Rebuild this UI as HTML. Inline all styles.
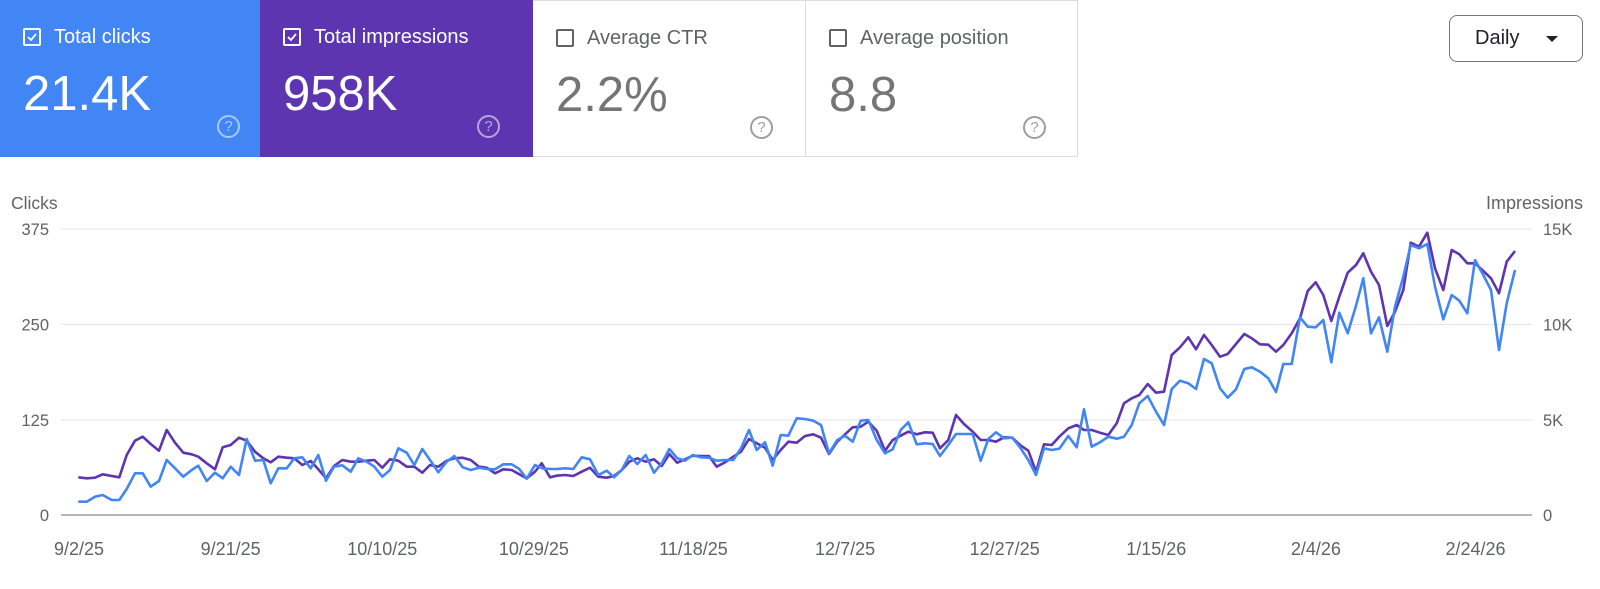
<!DOCTYPE html>
<html><head><meta charset="utf-8"><style>
body{margin:0;width:1600px;height:589px;background:#fff;font-family:"Liberation Sans",Arial,sans-serif;overflow:hidden;position:relative}
.card{position:absolute;top:0;height:157px;box-sizing:border-box}
.cb{position:absolute;left:23px;top:28px;width:18px;height:18px;border:2px solid #fff;border-radius:2px;box-sizing:border-box}
.lab{position:absolute;left:54px;top:26px;font-size:20px}
.val{position:absolute;left:23px;top:66px;font-size:49px}
.q{position:absolute;left:217px;top:115px;width:23px;height:23px;border:2px solid;border-radius:50%;box-sizing:border-box;font-size:15px;text-align:center;line-height:19px}
</style></head><body>
<div class="card" style="left:0;width:260px;background:#4285f4;color:#fff">
<div class="cb"><svg width="14" height="14" style="position:absolute;left:0;top:0"><path d="M3 7l3 3 5-6" stroke="#fff" stroke-width="1.8" fill="none"/></svg></div>
<div class="lab">Total clicks</div><div class="val">21.4K</div><div class="q" style="border-color:rgba(255,255,255,.55);color:rgba(255,255,255,.55)">?</div></div>
<div class="card" style="left:260px;width:273px;background:#5e35b1;color:#fff">
<div class="cb"><svg width="14" height="14" style="position:absolute;left:0;top:0"><path d="M3 7l3 3 5-6" stroke="#fff" stroke-width="1.8" fill="none"/></svg></div>
<div class="lab">Total impressions</div><div class="val">958K</div><div class="q" style="border-color:rgba(255,255,255,.55);color:rgba(255,255,255,.55)">?</div></div>
<div class="card" style="left:533px;width:273px;border:1px solid #dadce0;border-left:none;color:#5f6368">
<div class="cb" style="border-color:#5f6368"></div><div class="lab">Average CTR</div><div class="val" style="color:#757575">2.2%</div><div class="q" style="border-color:#9e9e9e;color:#9e9e9e">?</div></div>
<div class="card" style="left:805px;width:273px;border:1px solid #dadce0;color:#5f6368">
<div class="cb" style="border-color:#5f6368"></div><div class="lab">Average position</div><div class="val" style="color:#757575">8.8</div><div class="q" style="border-color:#9e9e9e;color:#9e9e9e">?</div></div>
<div style="position:absolute;left:1449px;top:15px;width:134px;height:47px;border:1px solid #757575;border-radius:8px;box-sizing:border-box;font-size:20px;color:#202124">
<span style="position:absolute;left:25px;top:11px">Daily</span>
<span style="position:absolute;left:96px;top:20px;width:0;height:0;border-left:6px solid transparent;border-right:6px solid transparent;border-top:6px solid #202124"></span></div>
<svg id="ch" width="1600" height="589" style="position:absolute;left:0;top:0" font-family="Liberation Sans,Arial,sans-serif"></svg>
<script>
var s=document.getElementById('ch'),h='';
h+='<text x="11" y="209" font-size="17.5" fill="#5f6368">Clicks</text><text x="1583" y="209" font-size="18" fill="#5f6368" text-anchor="end">Impressions</text>';
var gy=[229,324.5,420,515],L=['375','250','125','0'],R=['15K','10K','5K','0'];
for(var i=0;i<4;i++){h+='<line x1="61" x2="1532" y1="'+gy[i]+'" y2="'+gy[i]+'" stroke="'+(i==3?'#9e9e9e':'#e6e6e6')+'" stroke-width="'+(i==3?1.5:1)+'"/>';
h+='<text x="49" y="'+(gy[i]+6)+'" font-size="16.5" fill="#5f6368" text-anchor="end">'+L[i]+'</text><text x="1543" y="'+(gy[i]+6)+'" font-size="16.5" fill="#5f6368">'+R[i]+'</text>';}
var xd=[['9/2/25',0],['9/21/25',19],['10/10/25',38],['10/29/25',57],['11/18/25',77],['12/7/25',96],['12/27/25',116],['1/15/26',135],['2/4/26',155],['2/24/26',175]];
xd.forEach(function(d){h+='<text x="'+(79+d[1]*7.98)+'" y="555" font-size="18" fill="#5f6368" text-anchor="middle">'+d[0]+'</text>';});
function seg(a,x0,y0,min,max){var o=[];for(var i=0;i<a.length;i+=2){var x=x0+a[i]/3,y=y0+a[i+1]/3;if(x>=min&&x<max)o.push(x.toFixed(1)+','+y.toFixed(1));}return o;}
var b1=[55,395,80,395,105,380,128,375,155,390,178,390,200,357,225,310,248,310,272,350,297,333,320,270,345,295,370,320,395,300,415,287,440,333,465,308,488,325,512,290,537,315,560,207,585,272,610,270,632,340,655,295,680,295,703,265,727,262,752,295,775,255,798,332,822,290,847,286,872,305,895,265,920,275,943,290,967,320,990,300,1015,235,1040,248,1063,285,1087,237,1110,270,1135,307,1160,275,1183,258,1208,292,1232,300,1257,293,1280,297,1305,298,1330,283,1355,283,1378,297,1400,326,1425,285,1450,296,1475,297];
var p1=[55,322,80,325,105,323,128,313,155,318,178,322,200,255,225,212,248,200,272,222,297,242,320,180,345,218,370,248,395,253,415,260,440,280,465,298,488,232,512,225,537,203,560,212,585,245,610,265,632,277,655,260,680,263,703,265,727,285,752,273,775,298,798,325,822,288,847,270,872,275,895,275,920,272,943,270,967,293,990,268,1015,272,1040,290,1063,290,1087,308,1110,285,1135,290,1160,272,1183,265,1208,263,1232,270,1257,290,1280,293,1305,310,1330,298,1355,300,1378,313,1400,325,1425,305,1445,280,1470,322];
var b2=[0,295,25,297,50,297,75,295,100,297,125,262,150,268,175,315,200,302,222,322,245,300,268,258,292,282,317,255,342,308,365,280,388,237,412,265,435,272,458,255,482,262,507,263,530,272,555,270,580,270,603,235,627,180,650,240,675,217,698,287,722,195,745,197,770,145,795,147,820,152,843,165,867,250,892,210,915,197,938,215,962,152,985,150,1010,210,1035,250,1058,238,1082,180,1105,157,1130,223,1155,220,1178,222,1200,258,1225,225,1248,192,1272,192,1298,192,1322,272,1345,207,1368,187,1392,205,1417,203,1440,232,1465,270,1490,317];
var p2=[0,278,25,322,50,317,75,315,100,318,125,305,150,293,175,320,200,323,222,318,245,300,268,275,292,265,317,275,342,268,365,288,388,252,412,278,435,268,458,257,482,258,507,258,530,290,555,277,580,260,603,245,627,207,650,220,675,233,698,270,722,240,745,215,770,218,795,198,820,193,843,203,867,252,892,215,915,193,938,172,962,170,985,155,1010,182,1035,242,1058,210,1082,197,1105,185,1130,193,1155,187,1178,188,1200,235,1225,210,1248,135,1272,162,1298,185,1322,210,1345,210,1368,215,1392,202,1417,203,1440,225,1465,242,1490,300];
var b3=[0,680,35,683,60,710,85,750,108,795,132,715,155,720,178,716,205,678,230,712,252,598,275,710,300,697,325,680,350,686,372,680,395,645,418,580,443,558,468,605,492,645,515,537,540,512,565,520,588,537,612,447,635,460,660,535,683,563,708,538,733,477,755,472,780,485,805,505,828,546,850,462,875,462,900,322,923,350,947,352,970,330,994,457,1018,308,1043,370,1068,287,1090,205,1113,370,1137,322,1162,425,1185,290,1210,200,1232,105,1257,115,1282,102,1305,230,1330,328,1355,255,1378,272,1402,310,1425,150,1450,195,1473,240,1497,420];
var p3=[0,685,35,680,60,712,85,725,108,785,132,703,155,705,178,680,205,655,230,645,252,660,275,660,300,668,325,675,350,640,372,580,395,565,418,555,443,522,468,548,492,545,515,435,540,412,565,382,588,418,612,375,635,405,660,440,683,432,708,402,733,372,755,385,780,403,805,404,828,425,850,405,875,370,900,325,923,243,947,217,970,255,994,333,1018,260,1043,188,1068,165,1090,130,1113,185,1137,225,1162,348,1185,305,1210,240,1232,98,1257,110,1282,68,1305,175,1330,240,1355,120,1378,133,1402,160,1425,160,1450,183,1473,205,1497,250];
var b4=[380,280,405,180],p4=[380,155,405,123];
var B=seg(b1,60,370,0,555).concat(seg(b2,540,370,555,1035),seg(b3,1000,210,1035,1505),seg(b4,1380,210,1505,2000));
var P=seg(p1,60,370,0,555).concat(seg(p2,540,370,555,1035),seg(p3,1000,210,1035,1505),seg(p4,1380,210,1505,2000));
h+='<polyline points="'+P.join(' ')+'" fill="none" stroke="#5e35b1" stroke-width="2.6" stroke-linejoin="round"/>';
h+='<polyline points="'+B.join(' ')+'" fill="none" stroke="#4285f4" stroke-width="2.6" stroke-linejoin="round"/>';
s.innerHTML=h;
</script>
</body></html>
